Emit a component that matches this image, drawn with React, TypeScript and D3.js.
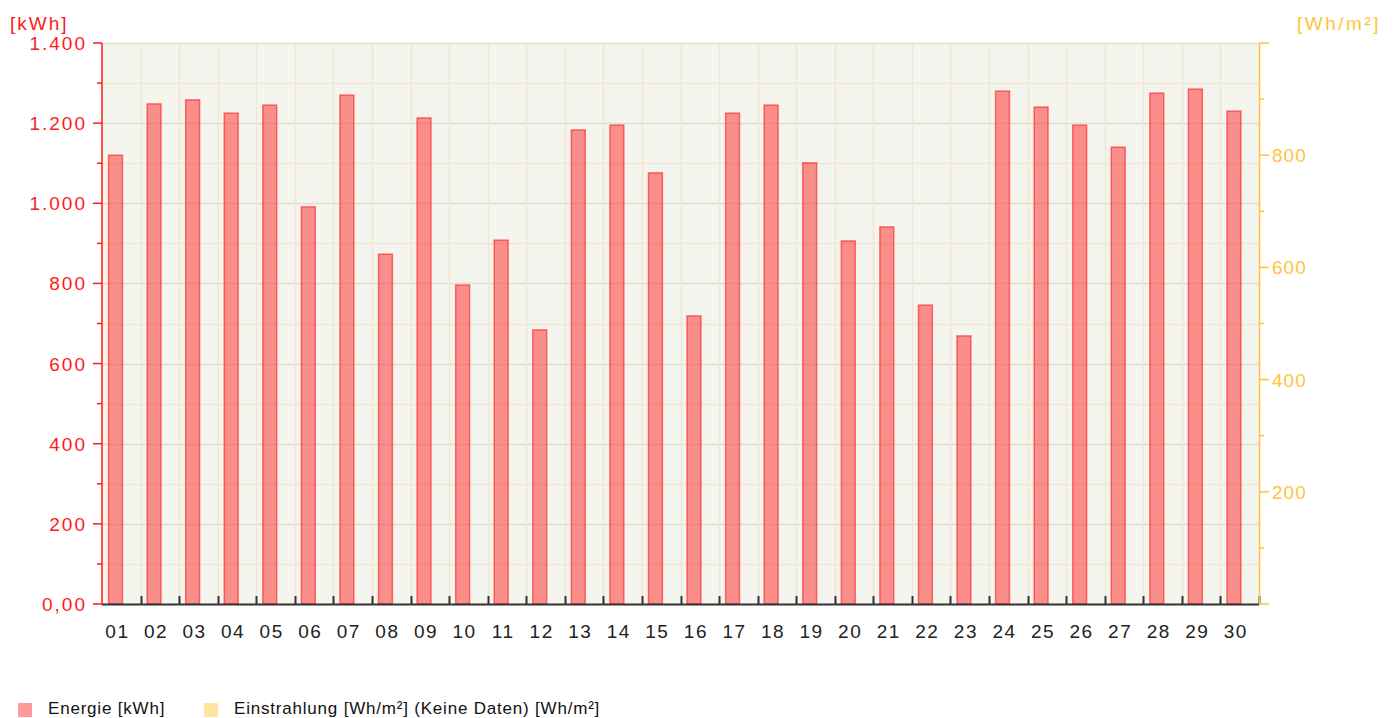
import React, { useEffect, useRef } from "react";
import * as d3 from "d3";

const days = ["01","02","03","04","05","06","07","08","09","10","11","12","13","14","15","16","17","18","19","20","21","22","23","24","25","26","27","28","29","30"];
const energy = [1120,1248,1258,1225,1245,991,1270,873,1213,796,908,684,1183,1195,1076,719,1225,1245,1101,906,941,746,669,1280,1240,1195,1140,1275,1285,1230];
const leftTicks = [0,200,400,600,800,1000,1200,1400];
const rightTicks = [200,400,600,800];
const legendItems = ["Energie [kWh]", "Einstrahlung [Wh/m²] (Keine Daten) [Wh/m²]"];
const legendColors = ["#ff9a9a", "#ffe4a2"];

const W = 1399, H = 718;
const M = { left: 102, right: 1259, top: 43, bottom: 604 };
const RED = "#ff1a1a";
const ORANGE = "#fdc43c";
const FONT = "'Liberation Sans', Arial, sans-serif";

export default function App() {
  const svgRef = useRef<SVGSVGElement>(null);

  useEffect(() => {
    const svg = d3.select(svgRef.current);
    svg.selectAll("*").remove();

    const x = d3.scaleBand().domain(days).range([M.left, M.right]);
    const yL = d3.scaleLinear().domain([0, 1400]).range([M.bottom, M.top]);
    const yR = d3.scaleLinear().domain([0, 1000]).range([M.bottom, M.top]);
    const step = x.step();

    // plot background
    svg.append("rect")
      .attr("x", M.left).attr("y", M.top)
      .attr("width", M.right - M.left).attr("height", M.bottom - M.top)
      .attr("fill", "#f5f5ef");

    // grid
    const g = svg.append("g");
    d3.range(100, 1401, 100).forEach((v) => {
      g.append("line")
        .attr("x1", M.left).attr("x2", M.right)
        .attr("y1", Math.round(yL(v)) + 0.5).attr("y2", Math.round(yL(v)) + 0.5)
        .attr("stroke", v % 200 === 0 ? "#e0e0cc" : "#f1e6cf")
        .attr("stroke-width", 1.5);
    });
    days.forEach((d, i) => {
      if (i === 0) return;
      g.append("line")
        .attr("x1", Math.round(x(d)!) + 0.5).attr("x2", Math.round(x(d)!) + 0.5)
        .attr("y1", M.top).attr("y2", M.bottom)
        .attr("stroke", "#f1e6cf").attr("stroke-width", 1.5);
    });

    // bars
    svg.append("g").selectAll("rect")
      .data(energy)
      .enter().append("rect")
      .attr("x", (d, i) => x(days[i])! + step * 0.17)
      .attr("y", (d) => yL(d))
      .attr("width", step * 0.36)
      .attr("height", (d) => M.bottom - yL(d))
      .attr("fill", "rgba(255,40,40,0.5)")
      .attr("stroke", "rgba(255,30,30,0.6)")
      .attr("stroke-width", 1.5);

    // x axis
    const xa = svg.append("g");
    xa.append("line")
      .attr("x1", M.left).attr("x2", M.right)
      .attr("y1", M.bottom + 0.5).attr("y2", M.bottom + 0.5)
      .attr("stroke", "#333").attr("stroke-width", 2);
    days.forEach((d, i) => {
      const xx = Math.round(x(d)! + step) + 0.5;
      xa.append("line")
        .attr("x1", xx).attr("x2", xx)
        .attr("y1", M.bottom - 8).attr("y2", M.bottom)
        .attr("stroke", "#333").attr("stroke-width", 2);
      xa.append("text")
        .attr("x", x(d)! + step * 0.4)
        .attr("y", M.bottom + 34)
        .attr("text-anchor", "middle")
        .attr("font-family", FONT).attr("font-size", 19)
        .attr("letter-spacing", 1.5)
        .attr("fill", "#222")
        .text(d);
    });

    // left axis
    const la = svg.append("g");
    la.append("line")
      .attr("x1", M.left).attr("x2", M.left)
      .attr("y1", M.top).attr("y2", M.bottom)
      .attr("stroke", RED).attr("stroke-width", 1.5);
    d3.range(0, 1401, 100).forEach((v) => {
      const yy = yL(v);
      const major = v % 200 === 0;
      la.append("line")
        .attr("x1", M.left - (major ? 9 : 5)).attr("x2", M.left)
        .attr("y1", yy).attr("y2", yy)
        .attr("stroke", RED).attr("stroke-width", 1.5);
    });
    leftTicks.forEach((v) => {
      la.append("text")
        .attr("x", M.left - 15)
        .attr("y", yL(v) + 7)
        .attr("text-anchor", "end")
        .attr("font-family", FONT).attr("font-size", 19)
        .attr("letter-spacing", 2)
        .attr("fill", RED)
        .text(v === 0 ? "0,00" : d3.format(",")(v).replace(",", "."));
    });
    la.append("text")
      .attr("x", 10).attr("y", 30)
      .attr("font-family", FONT).attr("font-size", 19)
      .attr("letter-spacing", 2)
      .attr("fill", RED)
      .text("[kWh]");

    // right axis
    const ra = svg.append("g");
    ra.append("line")
      .attr("x1", M.right + 0.5).attr("x2", M.right + 0.5)
      .attr("y1", M.top).attr("y2", M.bottom)
      .attr("stroke", ORANGE).attr("stroke-width", 1.5);
    d3.range(0, 1001, 100).forEach((v) => {
      const yy = yR(v);
      const major = v % 200 === 0;
      ra.append("line")
        .attr("x1", M.right).attr("x2", M.right + (major ? 10 : 5))
        .attr("y1", yy).attr("y2", yy)
        .attr("stroke", ORANGE).attr("stroke-width", 1.5);
    });
    rightTicks.forEach((v) => {
      ra.append("text")
        .attr("x", M.right + 13)
        .attr("y", yR(v) + 7)
        .attr("font-family", FONT).attr("font-size", 19)
        .attr("letter-spacing", 1)
        .attr("fill", ORANGE)
        .text(v);
    });
    ra.append("text")
      .attr("x", 1297).attr("y", 30)
      .attr("font-family", FONT).attr("font-size", 19)
      .attr("letter-spacing", 2.5)
      .attr("fill", ORANGE)
      .text("[Wh/m²]");

    // legend
    const lx = [18, 204];
    legendItems.forEach((t, i) => {
      svg.append("rect")
        .attr("x", lx[i]).attr("y", 703)
        .attr("width", 14).attr("height", 14)
        .attr("fill", legendColors[i]);
      svg.append("text")
        .attr("x", lx[i] + 30).attr("y", 714)
        .attr("font-family", FONT).attr("font-size", 17)
        .attr("letter-spacing", 0.8)
        .attr("fill", "#111")
        .text(t);
    });
  }, []);

  return (
    <svg ref={svgRef} width={W} height={H}
      style={{ position: "absolute", left: 0, top: 0, background: "#fff" }} />
  );
}
